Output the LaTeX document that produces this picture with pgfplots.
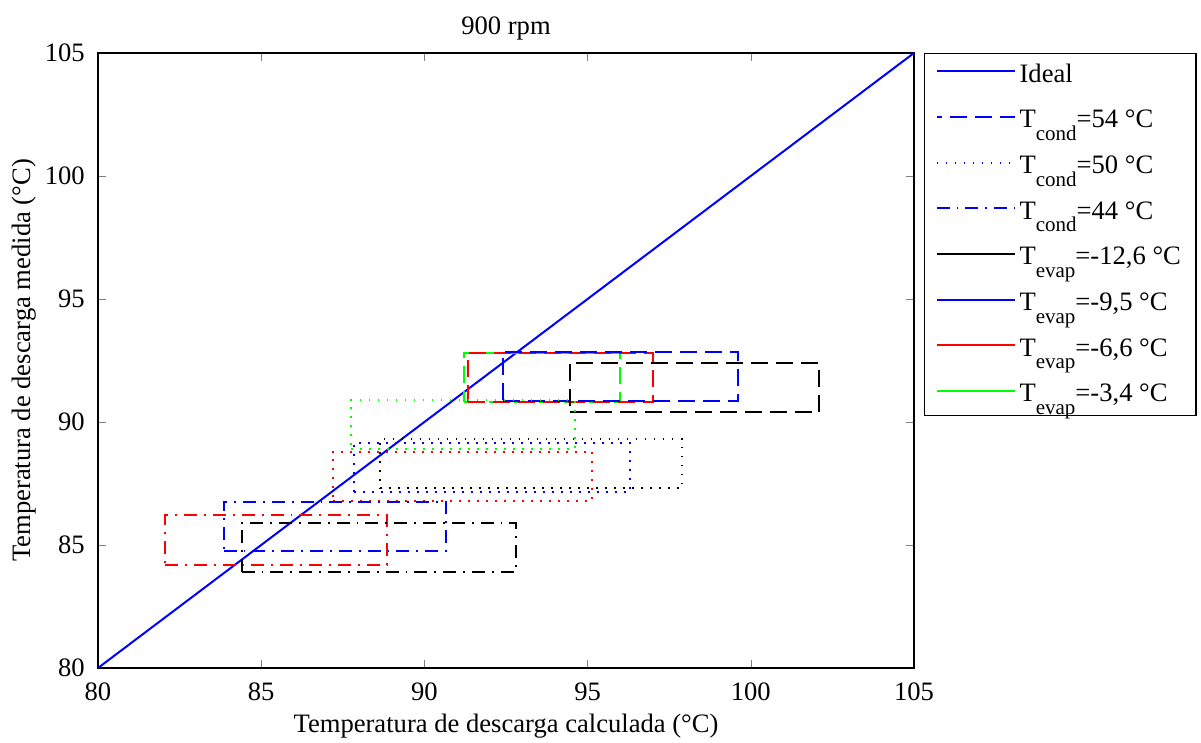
\documentclass[border=0pt]{standalone}
\usepackage{fontspec}
\setmainfont{Liberation Serif}
\usepackage{pgfplots}
\pgfplotsset{compat=1.18}
\newcommand\sub[1]{\raisebox{-6.3pt}{\fontsize{10.5}{11}\selectfont #1}}
\begin{document}
\fontsize{13.3}{15}\selectfont
\begin{tikzpicture}[font=\fontsize{13.3}{15}\selectfont,
  dsh/.style={dash pattern=on 8.5pt off 4pt},
  dt/.style={dash pattern=on 0.9pt off 3.6pt},
  dd/.style={dash pattern=on 6.5pt off 3.5pt on 0.9pt off 3.5pt}]
\path[use as bounding box] (-49pt,-37.5pt) rectangle (551.5pt,334pt);
\begin{axis}[
  at={(0,0)}, anchor=south west,
  scale only axis, width=408pt, height=307.5pt,
  xmin=80, xmax=105, ymin=80, ymax=105,
  xtick={80,85,...,105}, ytick={80,85,...,105},
  xtick pos=both, ytick pos=both,
  xticklabel pos=bottom, yticklabel pos=left,
  tick align=inside, major tick length=4pt,
  axis line style={line width=0.6pt},
  /pgf/number format/assume math mode=true,
  ticklabel style={font=\fontsize{13.3}{15}\selectfont},
  xticklabel style={yshift=-3pt},
  yticklabel style={xshift=-2pt},
  title={900 rpm},
  title style={at={(axis description cs:0.5,1.0325)}, anchor=base, yshift=-6.5pt},
  xlabel={Temperatura de descarga calculada (°C)},
  xlabel style={at={(axis description cs:0.5,-0.1057)}, anchor=base},
  ylabel={Temperatura de descarga medida (°C)},
  ylabel style={at={(axis description cs:-0.0833,0.5)}, anchor=base},
  legend style={at={(axis description cs:1.01225,1)}, anchor=north west,
    draw=black, line width=0.6pt, inner xsep=5.5pt, inner ysep=3pt,
    cells={anchor=west}, row sep=8pt,
    font=\fontsize{13.3}{15}\selectfont},
  legend image code/.code={\draw[#1] (0pt,2pt) -- (39pt,2pt);},
  every axis plot/.append style={line width=1pt},
]
\addplot[blue, sharp plot] coordinates {(80,80) (105,105)};
\addlegendentry{Ideal}
% Tcond = 54 (dashed)
\addplot[green, dsh, forget plot] coordinates {(91.2,90.8) (96.0,90.8) (96.0,92.8) (91.2,92.8) (91.2,90.8)};
\addplot[red, dsh, forget plot] coordinates {(91.35,90.8) (97.0,90.8) (97.0,92.8) (91.35,92.8) (91.35,90.8)};
\addplot[blue, dsh, forget plot] coordinates {(92.4,90.85) (99.6,90.85) (99.6,92.85) (92.4,92.85) (92.4,90.85)};
\addplot[black, dsh, forget plot] coordinates {(94.45,90.4) (102.1,90.4) (102.1,92.4) (94.45,92.4) (94.45,90.4)};
% Tcond = 50 (dotted)
\addplot[green, dt, forget plot] coordinates {(87.75,88.9) (94.6,88.9) (94.6,90.9) (87.75,90.9) (87.75,88.9)};
\addplot[black, dt, forget plot] coordinates {(88.65,87.3) (97.9,87.3) (97.9,89.3) (88.65,89.3) (88.65,87.3)};
\addplot[blue, dt, forget plot] coordinates {(87.85,87.15) (96.3,87.15) (96.3,89.15) (87.85,89.15) (87.85,87.15)};
\addplot[red, dt, forget plot] coordinates {(87.2,86.8) (95.15,86.8) (95.15,88.8) (87.2,88.8) (87.2,86.8)};
% Tcond = 44 (dash-dot)
\addplot[blue, dd, forget plot] coordinates {(83.85,84.75) (90.65,84.75) (90.65,86.75) (83.85,86.75) (83.85,84.75)};
\addplot[red, dd, forget plot] coordinates {(82.05,84.2) (88.85,84.2) (88.85,86.2) (82.05,86.2) (82.05,84.2)};
\addplot[black, dd, forget plot] coordinates {(84.4,83.9) (92.8,83.9) (92.8,85.9) (84.4,85.9) (84.4,83.9)};
\addlegendimage{blue, dsh, dash phase=6pt}
\addlegendentry{T\sub{cond}=54 °C}
\addlegendimage{blue, dt}
\addlegendentry{T\sub{cond}=50 °C}
\addlegendimage{blue, dd}
\addlegendentry{T\sub{cond}=44 °C}
\addlegendimage{black}
\addlegendentry{T\sub{evap}=-12,6 °C}
\addlegendimage{blue}
\addlegendentry{T\sub{evap}=-9,5 °C}
\addlegendimage{red}
\addlegendentry{T\sub{evap}=-6,6 °C}
\addlegendimage{green}
\addlegendentry{T\sub{evap}=-3,4 °C\rule[-18.5pt]{0pt}{0pt}}
\end{axis}
\end{tikzpicture}
\end{document}
